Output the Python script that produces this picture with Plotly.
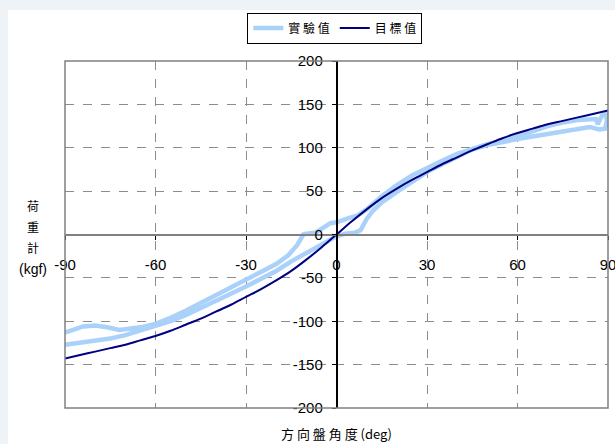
import plotly.graph_objects as go

# Steering angle (deg) vs. steering load (kgf)
target_angle = [-90, -85, -80, -75, -70, -65, -60, -55, -50, -45, -40, -35, -30, -25, -20, -15, -10, -5,
                0, 5, 10, 15, 20, 25, 30, 35, 40, 45, 50, 55, 60, 65, 70, 75, 80, 85, 90]
target_load = [-143, -139, -135, -131, -127, -122, -117, -111, -104, -97, -89, -81, -72, -63, -53, -42, -29, -15,
               0, 15, 29, 42, 53, 63, 72, 81, 89, 97, 104, 111, 117, 122, 127, 131, 135, 139, 143]

# Measured hysteresis loop: outbound (lower) branch, end hook, return (upper) branch
exp_angle = [-90, -85, -80, -75, -70, -65, -60, -55, -50, -45, -40, -35, -30, -25, -20, -15, -10, -6, -3,
             0, 3, 6, 8, 10, 12, 15, 20, 25, 30, 35, 40, 45, 50, 55, 60, 65, 70, 75, 80, 84, 87, 89,
             89.6, 89.4, 88, 87, 86.6, 86,
             80, 75, 70, 65, 60, 55, 50, 45, 40, 35, 30, 25, 20, 15, 10, 7, 4, 0, -2, -4, -7, -10,
             -11, -13, -16, -20, -25, -30, -35, -40, -45, -50, -55, -60, -65, -70, -72, -76, -80, -84, -87, -90]
exp_load = [-127, -125, -123, -120, -116, -111, -106, -100, -93, -85, -76, -68, -60, -51, -42, -31, -21, -14, -7,
            -2, 1, 2, 5, 18, 27, 37, 49, 61, 72, 81, 90, 98, 103, 107, 110, 113, 116, 119, 122, 124, 121, 122,
            130, 139, 137, 131, 127, 133,
            132, 129, 125, 119, 113, 108, 104, 99, 93, 85, 77, 68, 57, 44, 29, 22, 19, 14, 13, 8, 2, 1,
            0, -12, -24, -34, -43, -52, -61, -70, -80, -88, -96, -103, -107, -110, -110, -107, -105, -106, -109, -113]

x_ticks = [-90, -60, -30, 0, 30, 60, 90]
y_ticks = [-200, -150, -100, -50, 0, 50, 100, 150, 200]
y_title_chars = ["荷", "重", "計"]

tick_font = dict(family="Liberation Sans, Arial, sans-serif", size=15, color="black")
cjk_font = "Noto Sans CJK TC, sans-serif"

fig = go.Figure()
fig.add_trace(go.Scatter(x=exp_angle, y=exp_load, mode="lines", name="實 驗 值",
                         line=dict(color="#A9D1FA", width=4.5)))
fig.add_trace(go.Scatter(x=target_angle, y=target_load, mode="lines", name="目 標 值",
                         line=dict(color="#000080", width=2), line_shape="spline"))

annotations = []
# vertical axis title, one character per line
for i, ch in enumerate(y_title_chars):
    annotations.append(dict(text=ch, xref="paper", yref="paper", x=-0.059, y=0.585 - i * 0.061,
                            xanchor="center", yanchor="middle", showarrow=False,
                            font=dict(family=cjk_font, size=12, color="black")))
annotations.append(dict(text="(kgf)", xref="paper", yref="paper", x=-0.059, y=0.402,
                        xanchor="center", yanchor="middle", showarrow=False,
                        font=dict(family="Liberation Sans, Arial, sans-serif", size=14, color="black")))
annotations.append(dict(text="方 向 盤 角 度 (deg)", xref="paper", yref="paper", x=0.5, y=-0.074,
                        xanchor="center", yanchor="middle", showarrow=False,
                        font=dict(family=cjk_font, size=13, color="black")))

fig.update_layout(
    width=615, height=444,
    margin=dict(l=65, r=7, t=61, b=36),
    paper_bgcolor="#EEF3F8",
    plot_bgcolor="white",
    showlegend=True,
    legend=dict(orientation="h", x=0.497, xanchor="center", y=1.095, yanchor="middle",
                bordercolor="black", borderwidth=1, bgcolor="white",
                font=dict(family=cjk_font, size=12, color="black"),
                itemwidth=30, tracegroupgap=0),
    xaxis=dict(range=[-90, 90], tickvals=x_ticks, ticktext=[str(v) for v in x_ticks],
               anchor="free", position=0.5, showline=True, linecolor="#808080", linewidth=2,
               ticks="outside", ticklen=4, tickcolor="black", ticklabelstandoff=12,
               ticklabeloverflow="allow", automargin=False,
               showgrid=True, gridcolor="#8C8C8C", griddash="dash", gridwidth=1,
               zeroline=False, tickfont=tick_font),
    yaxis=dict(range=[-200, 200], tickvals=y_ticks, ticktext=[str(v) for v in y_ticks],
               anchor="free", position=0.5, showline=True, linecolor="black", linewidth=1.5,
               ticks="outside", ticklen=4, tickcolor="black", ticklabelstandoff=6,
               ticklabeloverflow="allow", automargin=False,
               showgrid=True, gridcolor="#8C8C8C", griddash="dash", gridwidth=1,
               zeroline=False, tickfont=tick_font),
    shapes=[
        # white chart area
        dict(type="rect", xref="paper", yref="paper", x0=-0.105, x1=1.02, y0=-0.11, y1=1.147,
             fillcolor="white", line=dict(width=0), layer="below"),
        # plot frame
        dict(type="rect", xref="paper", yref="paper", x0=0, x1=1, y0=0, y1=1,
             line=dict(color="#808080", width=1.5), layer="above"),
    ],
    annotations=annotations,
)

fig.write_html("out.html")
